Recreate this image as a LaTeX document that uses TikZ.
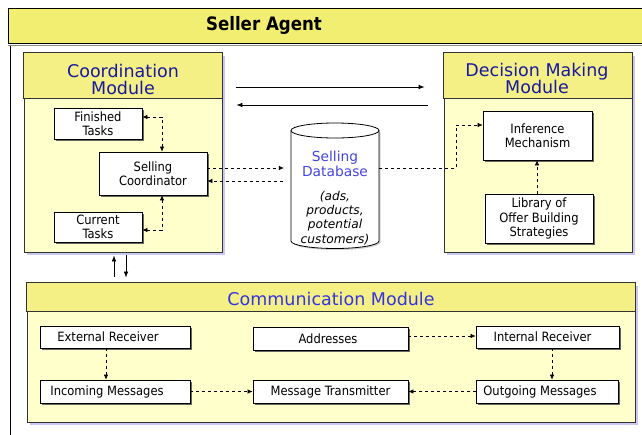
\documentclass[tikz,border=0pt]{standalone}
\usepackage{fontspec}
\setmainfont{DejaVu Sans}
\newfontfamily\condfont{DejaVu Sans Condensed}
\usetikzlibrary{shadows,arrows.meta,calc}

\definecolor{titleY}{HTML}{F2EE72}
\definecolor{headY}{HTML}{F4F086}
\definecolor{bodyY}{HTML}{FFFFCC}
\definecolor{modshadow}{HTML}{C8C8F2}
\definecolor{navyT}{HTML}{1818A0}
\definecolor{blueT}{HTML}{3434DC}
\definecolor{dbT}{HTML}{4444E6}

\tikzset{
  modbody/.style={draw=black!80, line width=0.8pt, fill=bodyY, inner sep=0pt,
    drop shadow={shadow xshift=3pt, shadow yshift=-3pt, fill=modshadow, opacity=1}},
  modtitle/.style={font=\fontsize{17.5}{17}\selectfont, align=center, inner sep=0pt},
  box/.style={draw=black, line width=0.8pt, fill=white, inner sep=0pt, align=center,
    font=\condfont\fontsize{12.8}{14.5}\selectfont,
    drop shadow={shadow xshift=2pt, shadow yshift=-2pt, fill=black!60, opacity=1}},
  darr/.style={densely dashed, dash pattern=on 3pt off 3pt, line width=0.6pt,
    arrows={-Latex[length=5pt,width=4.5pt]}},
  sarr/.style={line width=0.7pt, arrows={-Latex[length=6pt,width=4.5pt]}},
}
% pushes a single-line label towards the left edge of its box
\newcommand{\padtext}[2]{#2\hspace*{#1pt}}

\begin{document}
\begin{tikzpicture}[x=1pt, y=-1pt]
\useasboundingbox (0,0) rectangle (642,434);
\fill[white] (0,0) rectangle (642,434);

% outer frame and title bar
\draw[black, line width=0.9pt] (10,45) rectangle (670,450);
\draw[black, line width=0.9pt, fill=titleY] (8,8) rectangle (670,43);
\draw[black!45, line width=1pt] (8,45) -- (670,45);
\node[font=\condfont\bfseries\fontsize{18.5}{18}\selectfont, inner sep=0pt] (agent) at (264,25) {Seller Agent};

% coordination module
\node[modbody, minimum width=198pt, minimum height=199pt] (cm) at (123,152.5) {};
\draw[black!80, line width=0.8pt, fill=headY] (cm.north west) rectangle ($(cm.north east)+(0,46)$);
\node[modtitle, text=navyT] (cmt) at (123,79) {Coordination\\Module};

% decision making module
\node[modbody, minimum width=188pt, minimum height=199pt] (dm) at (538,152.5) {};
\draw[black!80, line width=0.8pt, fill=headY] (dm.north west) rectangle ($(dm.north east)+(0,46)$);
\node[modtitle, text=navyT] (dmt) at (537,78.5) {Decision Making\\Module};

% communication module
\node[modbody, minimum width=608pt, minimum height=139pt] (com) at (331,352.5) {};
\draw[black!80, line width=0.8pt, fill=headY] (com.north west) rectangle ($(com.north east)+(0,29)$);
\node[modtitle, text=blueT] (comt) at (331,299) {Communication Module};

% coordination boxes
\node[box, minimum width=88pt, minimum height=31pt] (fin) at (98,123.5) {Finished\\Tasks};
\node[box, minimum width=108pt, minimum height=43pt] (sc) at (153,173.5) {Selling\\Coordinator};
\node[box, minimum width=88pt, minimum height=30pt] (cur) at (98,227) {Current\\Tasks};

% decision boxes
\node[box, minimum width=109pt, minimum height=49pt] (inf) at (537.5,135.5) {Inference\\Mechanism};
\node[box, minimum width=108pt, minimum height=49pt] (lib) at (539,218.5) {Library of\\Offer Building\\Strategies};

% communication boxes
\node[box, minimum width=150pt, minimum height=22pt] (ext) at (115,337) {\padtext{14}{External Receiver}};
\node[box, minimum width=155pt, minimum height=23pt] (addr) at (330.5,338.5) {\padtext{5}{Addresses}};
\node[box, minimum width=143pt, minimum height=22pt] (intr) at (547.5,337) {\padtext{10}{Internal Receiver}};
\node[box, minimum width=150pt, minimum height=23pt] (inc) at (115,391.5) {\padtext{16}{Incoming Messages}};
\node[box, minimum width=155pt, minimum height=23pt] (tx) at (330.5,391.5) {Message Transmitter};
\node[box, minimum width=142pt, minimum height=23pt] (out) at (547,391.5) {\padtext{14}{Outgoing Messages}};

% selling database cylinder
\fill[black!18] (292.5,132) -- (292.5,242.5) arc[start angle=180, end angle=360, x radius=44pt, y radius=7.5pt] -- (380.5,132) -- cycle;
\draw[line width=0.8pt, fill=white] (291,130.5) -- (291,241) arc[start angle=180, end angle=360, x radius=44pt, y radius=7.5pt] -- (379,130.5);
\draw[line width=0.8pt, fill=white] (335,130.5) ellipse [x radius=44pt, y radius=7.5pt];
\node[minimum width=88pt, minimum height=126pt, inner sep=0pt] (db) at (335,186) {};
\node[text=dbT, align=center, inner sep=0pt, font=\fontsize{13.8}{15}\selectfont] (dbname) at (335,163.5) {Selling\\Database};
\node[align=center, inner sep=0pt, font=\itshape\fontsize{12.2}{14.3}\selectfont] (dbinfo) at (335,218) {(ads,\\products,\\potential\\customers)};

% connectors inside coordination module
\coordinate (f1) at (162,117);
\coordinate (c1) at (162,230);
\draw[darr, arrows={Latex[length=5pt,width=4.5pt]-Latex[length=5pt,width=4.5pt]}] (fin.east |- f1) -- (f1) -- (sc.north -| f1);
\draw[darr, arrows={Latex[length=5pt,width=4.5pt]-Latex[length=5pt,width=4.5pt]}] (cur.east |- c1) -- (c1) -- (sc.south -| c1);

% coordinator and database
\coordinate (s1) at (0,168);
\coordinate (s2) at (0,181);
\draw[darr, shorten >=7pt] (sc.east |- s1) -- (db.west |- s1);
\draw[darr, shorten <=8pt] (db.west |- s2) -- (sc.east |- s2);

% database to inference mechanism
\coordinate (d1) at (456,168);
\coordinate (d2) at (456,125);
\draw[darr] (db.east |- d1) -- (d1) -- (d2) -- (inf.west |- d2);
\draw[darr] (lib.north -| 537,0) -- (inf.south -| 537,0);

% module exchange arrows
\coordinate (m1) at (0,87);
\coordinate (m2) at (0,105);
\draw[sarr, shorten <=14pt, shorten >=19pt] (cm.east |- m1) -- (dm.west |- m1);
\draw[sarr, shorten <=16pt, shorten >=14pt] (dm.west |- m2) -- (cm.east |- m2);
\coordinate (v1) at (114,0);
\coordinate (v2) at (126,0);
\draw[sarr, shorten <=6pt, shorten >=3pt] (com.north -| v1) -- (cm.south -| v1);
\draw[sarr, shorten <=3pt, shorten >=5pt] (cm.south -| v2) -- (com.north -| v2);

% communication connectors
\draw[darr] (ext.south -| 106,0) -- (inc.north -| 106,0);
\draw[darr] (inc) -- (tx);
\draw[darr] (addr.east |- 0,336) -- (intr.west |- 0,336);
\draw[darr] (intr.south -| 552,0) -- (out.north -| 552,0);
\draw[darr] (out) -- (tx);
\end{tikzpicture}
\end{document}
